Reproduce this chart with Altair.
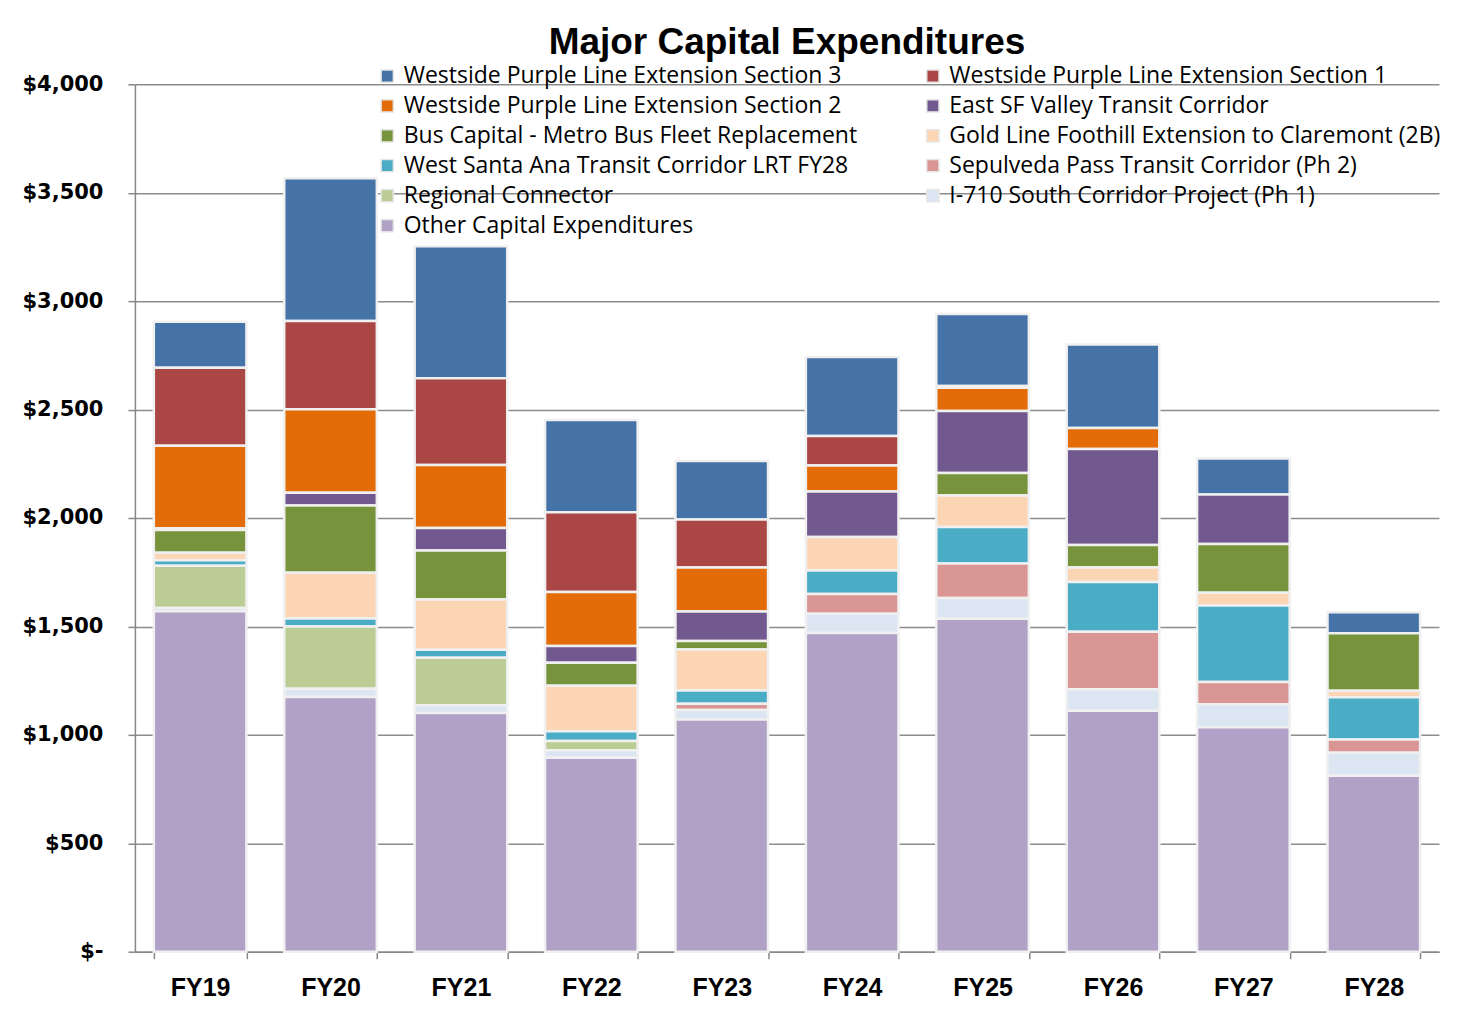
import altair as alt
import pandas as pd

years = ["FY19", "FY20", "FY21", "FY22", "FY23", "FY24", "FY25", "FY26", "FY27", "FY28"]

# series in stacking order, top of stack first
series = [
    "Westside Purple Line Extension Section 3",
    "Westside Purple Line Extension Section 1",
    "Westside Purple Line Extension Section 2",
    "East SF Valley Transit Corridor",
    "Bus Capital - Metro Bus Fleet Replacement",
    "Gold Line Foothill Extension to Claremont (2B)",
    "West Santa Ana Transit Corridor LRT FY28",
    "Sepulveda Pass Transit Corridor (Ph 2)",
    "Regional Connector",
    "I-710 South Corridor Project  (Ph 1)",
    "Other Capital Expenditures",
]

colors = ["#4573A7", "#AA4644", "#E36C09", "#71588F", "#77933C", "#FCD5B5",
          "#4BACC6", "#D99694", "#BBCD95", "#DCE6F2", "#B2A1C7"]

wple3 = [212, 659, 608, 426, 270, 364, 332, 385, 166, 97]
wple1 = [360, 406, 401, 367, 221, 136, 8, 0, 0, 0]
wple2 = [380, 386, 290, 249, 203, 120, 108, 97, 0, 0]
east_sfv = [8, 58, 104, 78, 136, 210, 286, 442, 228, 0]
bus_capital = [105, 311, 226, 106, 39, 0, 103, 104, 225, 265]
gold_line = [35, 210, 232, 210, 189, 154, 145, 67, 58, 30]
west_santa_ana = [25, 37, 37, 44, 62, 108, 169, 230, 353, 194]
sepulveda = [0, 0, 0, 0, 28, 92, 159, 265, 103, 62]
regional_connector = [195, 288, 219, 43, 0, 0, 0, 0, 0, 0]
i710 = [15, 37, 35, 35, 44, 88, 96, 99, 106, 106]
other = [1570, 1175, 1101, 894, 1071, 1470, 1535, 1111, 1035, 811]

values = [wple3, wple1, wple2, east_sfv, bus_capital, gold_line,
          west_santa_ana, sepulveda, regional_connector, i710, other]

# legend reads row by row across two columns; Vega fills columns first,
# so the legend domain lists column 1 entries then column 2 entries
legend_order = series[0::2] + series[1::2]
legend_colors = [colors[series.index(s)] for s in legend_order]

rows = []
for si, (name, vals) in enumerate(zip(series, values)):
    stack_pos = len(series) - 1 - si  # Other at bottom
    for y, v in zip(years, vals):
        if v > 0:
            rows.append({"year": y, "series": name, "value": v, "pos": stack_pos})
df = pd.DataFrame(rows)

bars = alt.Chart(df).mark_bar(stroke="#F0F0F0", strokeWidth=2.5).encode(
    x=alt.X("year:N", sort=years, title=None,
            scale=alt.Scale(paddingInner=0.29, paddingOuter=0.145),
            axis=alt.Axis(labelAngle=0, labelFont="Liberation Sans", labelFontWeight="bold",
                          labelFontSize=25, labelColor="#000000", labelPadding=17,
                          tickBand="extent", tickSize=7, tickColor="#888888", tickWidth=1.5,
                          domainColor="#888888", domainWidth=1.5, grid=False)),
    y=alt.Y("value:Q", stack="zero", title=None,
            scale=alt.Scale(domain=[0, 4000], nice=False),
            axis=alt.Axis(values=list(range(0, 4001, 500)),
                          labelExpr="datum.value == 0 ? '$-' : '$' + format(datum.value, ',')",
                          labelFont="DejaVu Sans", labelFontWeight="bold", labelFontSize=21,
                          labelColor="#000000", labelPadding=25, tickSize=7,
                          tickColor="#888888", tickWidth=1.5, domainColor="#888888",
                          domainWidth=1.5, grid=True, gridColor="#8C8C8C", gridWidth=1.5)),
    color=alt.Color("series:N", scale=alt.Scale(domain=legend_order, range=legend_colors),
                    title=None,
                    legend=alt.Legend(orient="none", legendX=241, legendY=-20, columns=2,
                                      columnPadding=64, rowPadding=6, symbolType="square",
                                      symbolSize=150, symbolStrokeColor="#E6E6E6",
                                      symbolStrokeWidth=1.5, labelFont="Open Sans",
                                      labelFontSize=23, labelColor="#000000", labelOffset=5,
                                      labelLimit=0)),
    order=alt.Order("pos:Q", sort="ascending"),
)

chart = bars.properties(
    width=1305, height=868,
    title=alt.TitleParams("Major Capital Expenditures", font="Liberation Sans",
                          fontSize=37, fontWeight="bold", color="#000000",
                          anchor="middle", offset=30, dy=28),
    autosize=alt.AutoSizeParams(type="none"),
    padding={"left": 127, "top": 76, "right": 12, "bottom": 60},
).configure_view(stroke=None)

chart.save("out.html", embed_options={"renderer": "svg", "actions": False})
